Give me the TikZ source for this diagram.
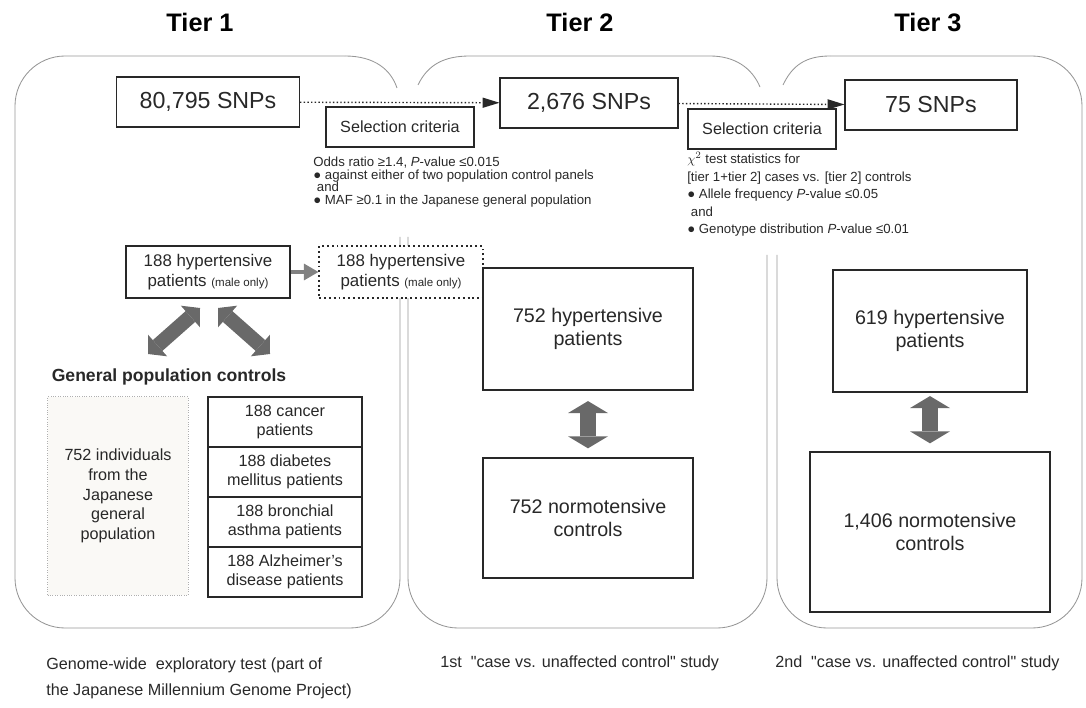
\documentclass[tikz,border=0pt]{standalone}
\usepackage{fontspec}
\setmainfont{Liberation Sans}
\newfontfamily\plainsans{Liberation Sans}
\usetikzlibrary{arrows.meta, positioning, calc}

\definecolor{inkgray}{RGB}{40,40,40}
\definecolor{panelgray}{RGB}{150,150,150}
\definecolor{fatgray}{RGB}{105,105,105}
\definecolor{feedgray}{RGB}{130,130,130}
\definecolor{popfill}{RGB}{250,249,246}
\definecolor{popline}{RGB}{175,175,175}

\tikzset{every node/.append style={align=center}}
\tikzset{
  tier/.style={font=\bfseries\fontsize{18}{20}\selectfont, text=black},
  panel/.style={draw=panelgray, line width=0.6pt},
  snp/.style={rectangle, draw=inkgray, fill=white, line width=0.8pt,
    minimum height=1.25cm, font=\fontsize{16.5}{19}\selectfont, text=inkgray},
  crit/.style={rectangle, draw=inkgray, fill=white, line width=1.5pt,
    minimum width=3.72cm, minimum height=0.98cm, font=\fontsize{11.5}{13}\selectfont, text=inkgray},
  rule/.style={inner sep=0pt, align=left, text=inkgray},
  hyp/.style={rectangle, draw=inkgray, fill=white, line width=1.4pt,
    minimum width=4.08cm, minimum height=1.28cm, font=\fontsize{12}{14}\selectfont, text=inkgray},
  ctl/.style={rectangle, draw=inkgray, fill=white, line width=1.4pt,
    minimum width=3.85cm, minimum height=1.25cm, font=\fontsize{11.5}{13.5}\selectfont, text=inkgray},
  popbox/.style={rectangle, draw=popline, fill=popfill, densely dotted, line width=0.7pt,
    minimum width=3.52cm, minimum height=4.95cm, font=\fontsize{11.5}{14}\selectfont, text=inkgray},
  study/.style={rectangle, draw=inkgray, fill=white, line width=1.5pt,
    font=\fontsize{14}{16}\selectfont, text=inkgray},
  caption/.style={inner sep=0pt, align=left, font=\plainsans\fontsize{11.5}{19}\selectfont, text=inkgray},
  flow/.style={-{Triangle[length=0.42cm, width=0.26cm, line width=0pt]}, inkgray,
    line width=1pt, dash pattern=on 1pt off 1.6pt},
  feed/.style={-{Triangle[length=0.36cm, width=0.42cm, line width=0pt]}, feedgray, line width=3.5pt},
  fat/.style={{Triangle[length=0.3cm, width=1cm, line width=0pt]}-{Triangle[length=0.3cm, width=1cm, line width=0pt]},
    fatgray, line width=0.4cm},
  fatdiag/.style={{Triangle[length=0.32cm, width=0.72cm, line width=0pt]}-{Triangle[length=0.32cm, width=0.72cm, line width=0pt]},
    fatgray, line width=0.36cm}
}

\begin{document}
\begin{tikzpicture}[x=0.025cm, y=-0.025cm]
  \useasboundingbox (0,0) rectangle (1086,708);

  % tier panels
  \draw[panel] (345,56) .. controls (375,56) and (391,70) .. (397,88);
  \draw[panel, rounded corners=1.25cm] (345,56) -- (15,56) -- (15,628) -- (400,628) -- (400,237);
  \draw[panel] (418,85) .. controls (428,64) and (445,56) .. (470,56) -- (710,56)
    .. controls (735,56) and (752,68) .. (760,87);
  \draw[panel, rounded corners=1.25cm] (408,237) -- (408,628) -- (767,628) -- (767,255);
  \draw[panel] (783,85) .. controls (792,66) and (805,56) .. (830,56);
  \draw[panel, rounded corners=1.25cm] (830,56) -- (1082,56) -- (1082,628) -- (777,628) -- (777,255);

  \node[tier] (tierA) at (200,22) {Tier 1};
  \node[tier] (tierB) at (580,22) {Tier 2};
  \node[tier] (tierC) at (928,22) {Tier 3};

  % SNP counts and selection
  \node[snp, minimum width=4.575cm] (snpA) at (208,102) {80,795 SNPs};
  \node[snp, minimum width=4.45cm] (snpB) at (589,103) {2,676 SNPs};
  \node[snp, minimum width=4.3cm] (snpC) at (931,105) {75 SNPs};
  \draw[flow] (snpA) -- (snpB);
  \draw[flow] (snpB) -- (snpC);

  \node[crit] (critA) at (400,127) {Selection criteria};
  \node[crit] (critB) at (762,129) {Selection criteria};
  \node[rule, anchor=north west, font=\fontsize{9.4}{8.9}\selectfont] (ruleA) at (313,157)
    {Odds ratio ≥1.4, \textit{P}-value ≤0.015\\
     ● against either of two population control panels\\
     \ and\\
     ● MAF ≥0.1 in the Japanese general population};
  \node[rule, anchor=north west, font=\fontsize{9.4}{12.4}\selectfont] (ruleB) at (687,152)
    {$\chi^2$ test statistics for\\
     {[}tier 1+tier 2{]} cases vs. {[}tier 2{]} controls\\
     ● Allele frequency \textit{P}-value ≤0.05\\
     \ and\\
     ● Genotype distribution \textit{P}-value ≤0.01};

  % tier 1
  \node[hyp] (hypA) at (208,272) {188 hypertensive\\patients {\fontsize{8.2}{10}\selectfont(male only)}};
  \node[hyp, dotted] (hypB) at (401,272) {188 hypertensive\\patients {\fontsize{8.2}{10}\selectfont(male only)}};
  \draw[feed] (hypA) -- (hypB);

  \coordinate (fatAa) at (148,354);
  \coordinate (fatAb) at (200,308);
  \coordinate (fatBa) at (218,308);
  \coordinate (fatBb) at (270,354);
  \draw[fatdiag] (fatAa) -- (fatAb);
  \draw[fatdiag] (fatBa) -- (fatBb);

  \node[font=\bfseries\fontsize{12.5}{14}\selectfont, text=inkgray] (genpop) at (169,377) {General population controls};
  \node[popbox] (indiv) at (118,496) {752 individuals\\from the\\Japanese\\general\\population};
  \node[ctl] (cancer) at (285,422) {188 cancer\\patients};
  \node[ctl] (diabetes) at (285,472) {188 diabetes\\mellitus patients};
  \node[ctl] (asthma) at (285,522) {188 bronchial\\asthma patients};
  \node[ctl] (alzheimer) at (285,572) {188 Alzheimer's\\disease patients};

  % tier 2
  \node[study, minimum width=5.25cm, minimum height=3.05cm] (hyp2) at (588,329) {752 hypertensive\\patients};
  \node[study, minimum width=5.25cm, minimum height=2.98cm] (norm2) at (588,518) {752 normotensive\\controls};
  \draw[fat] ($(hyp2.south)+(0,10)$) -- ($(norm2.north)+(0,-9)$);

  % tier 3
  \node[study, minimum width=4.85cm, minimum height=3.05cm] (hyp3) at (930,331) {619 hypertensive\\patients};
  \node[study, minimum width=6cm, minimum height=3.98cm] (norm3) at (930,532) {1,406 normotensive\\controls};
  \draw[fat] ($(hyp3.south)+(0,3)$) -- ($(norm3.north)+(0,-8)$);

  % study descriptions
  \node[caption, anchor=north west] (capA) at (46,657)
    {Genome-wide\ \ exploratory test (part of\\the Japanese Millennium Genome Project)};
  \node[caption, anchor=west] (capB) at (440,663) {1st\ \ "case vs. unaffected control" study};
  \node[caption, anchor=west] (capC) at (775,663) {2nd\ \ "case vs. unaffected control" study};
\end{tikzpicture}
\end{document}
